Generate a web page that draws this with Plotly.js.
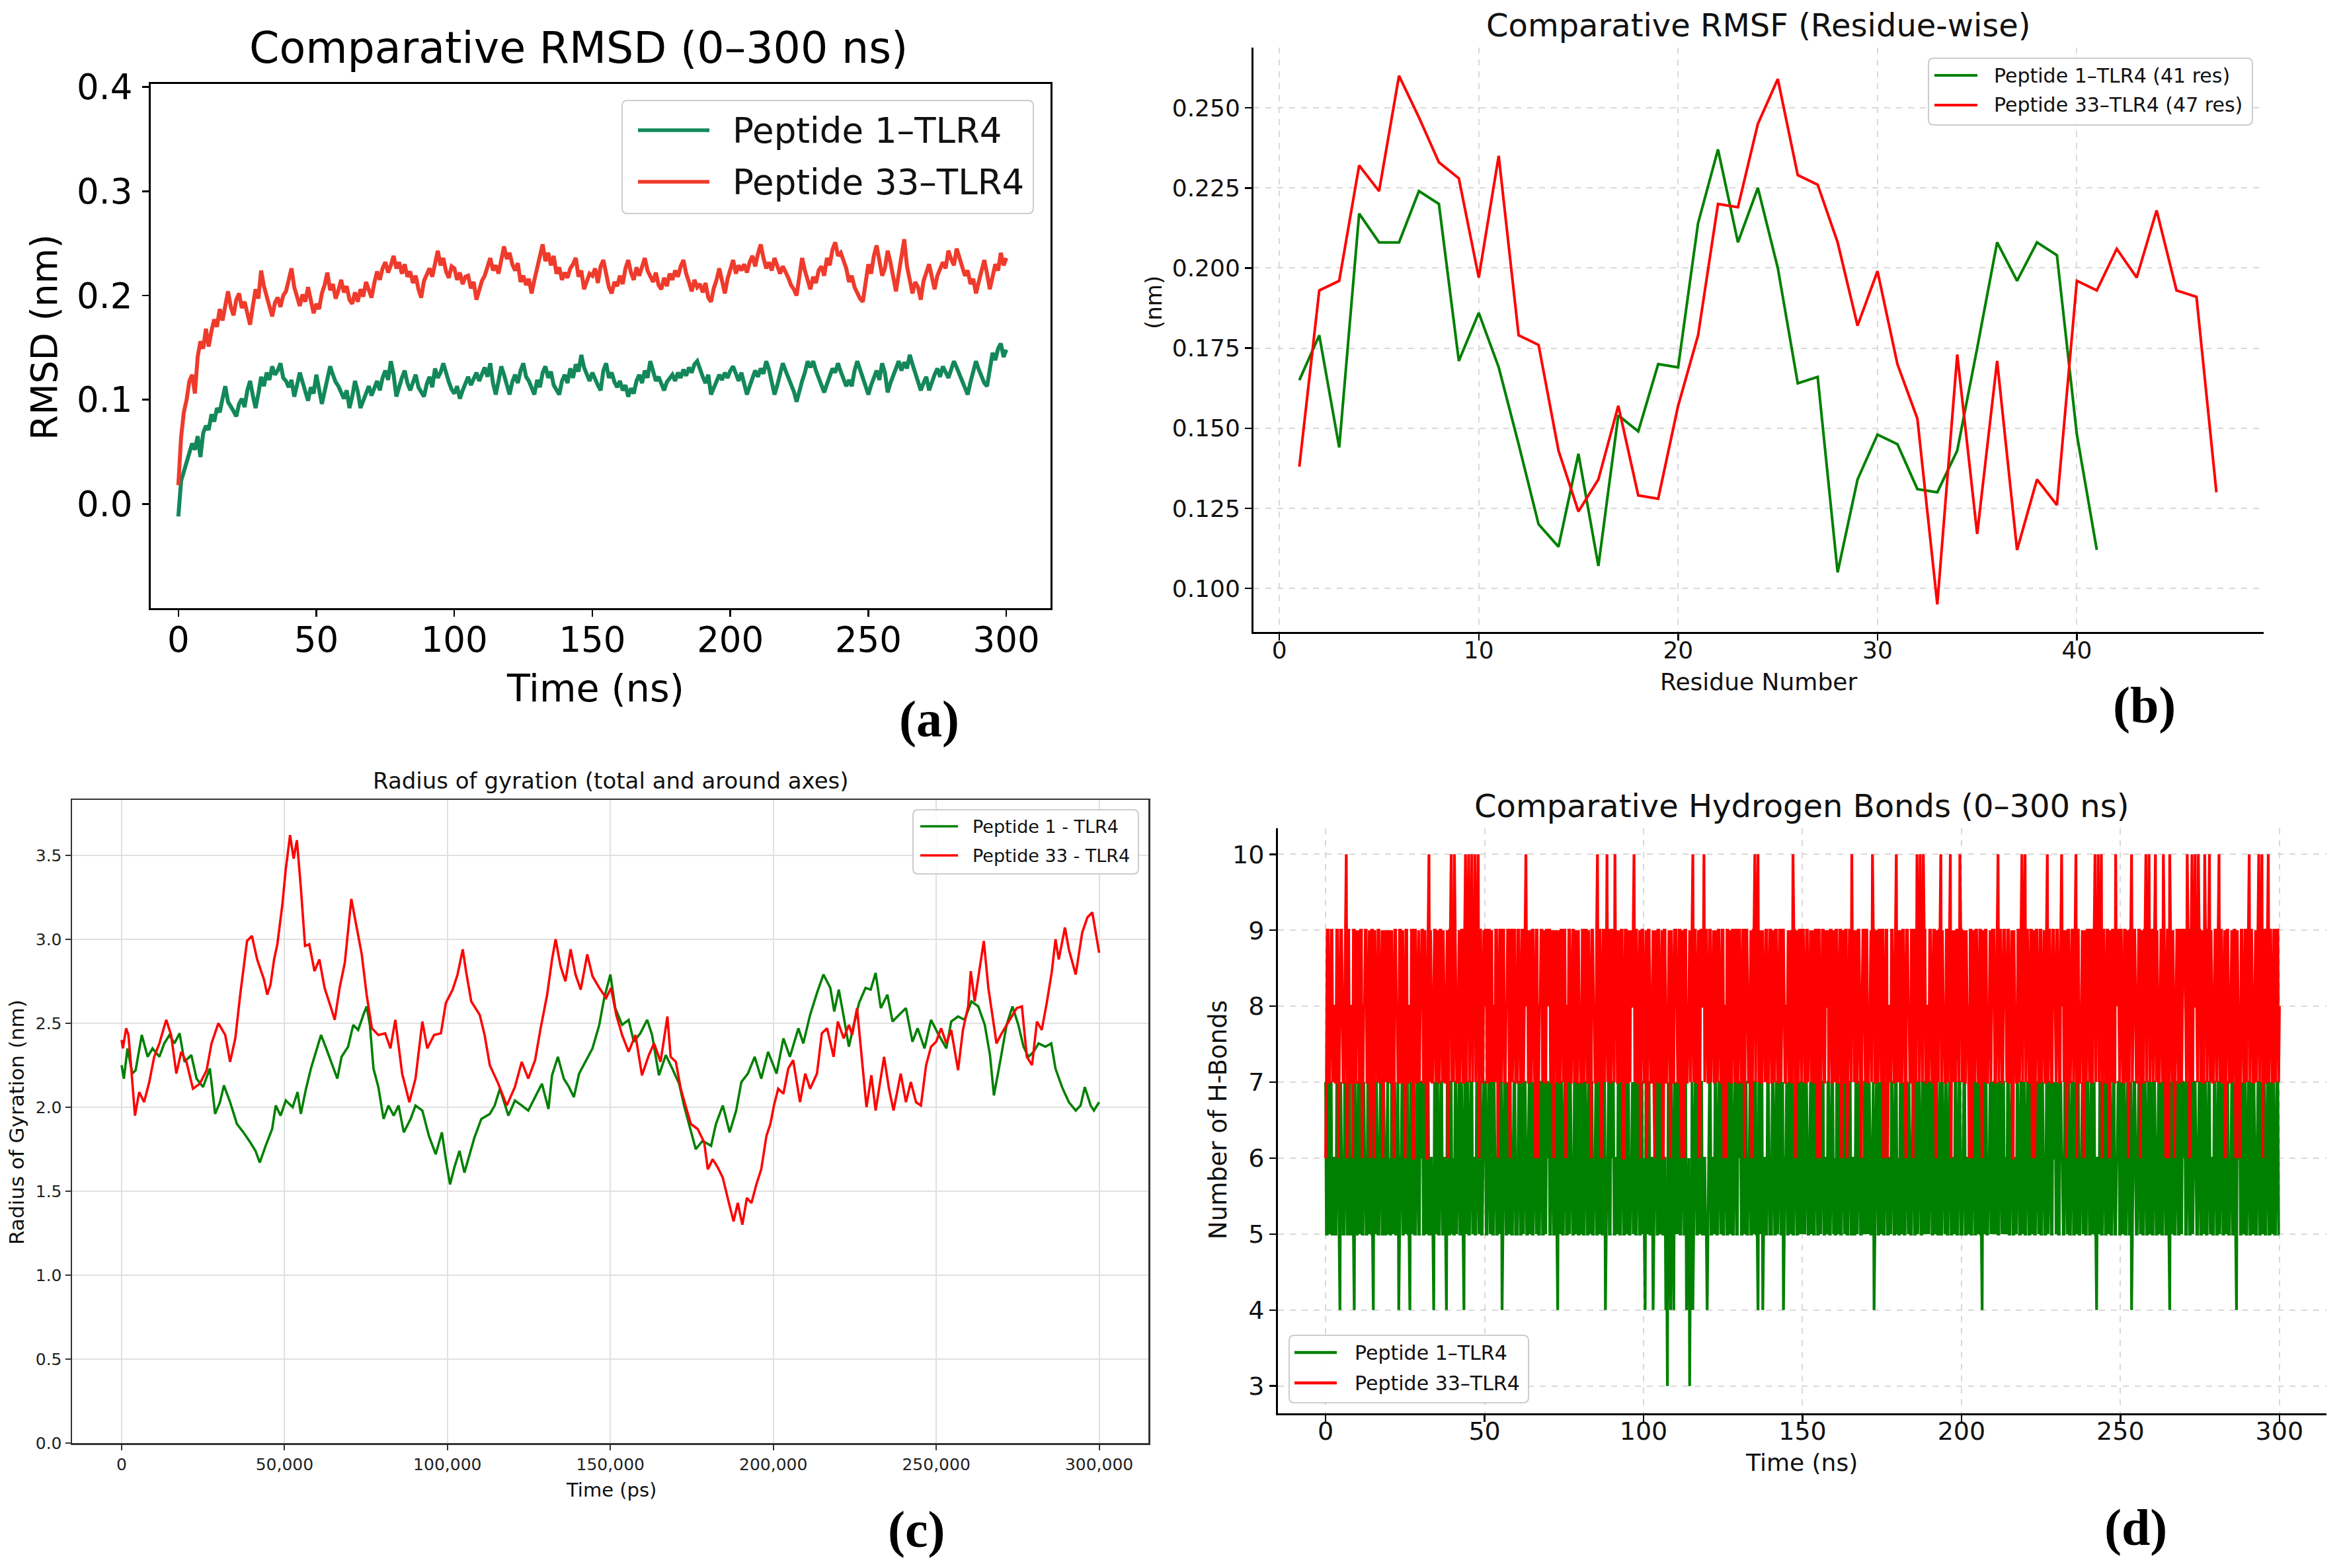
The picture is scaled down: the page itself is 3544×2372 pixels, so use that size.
<!DOCTYPE html>
<html><head><meta charset="utf-8">
<script src="https://cdn.plot.ly/plotly-3.0.1.min.js"></script>
<style>html,body{margin:0;padding:0;background:#fff;}#chart{width:3544px;height:2372px;}</style>
</head><body><div id="chart"></div>
<script>
// ---------- (a) RMSD, 1 ns sampling, 0..300 ns ----------
const rmsdPep1 = [
-0.012,0.022,0.031,0.039,0.048,0.058,0.052,0.065,0.045,0.068,
0.075,0.071,0.086,0.079,0.092,0.088,0.101,0.113,0.098,0.094,
0.089,0.084,0.096,0.101,0.093,0.109,0.118,0.104,0.092,0.106,
0.122,0.113,0.126,0.119,0.132,0.124,0.128,0.135,0.121,0.118,
0.112,0.119,0.103,0.114,0.126,0.117,0.108,0.099,0.112,0.106,
0.124,0.110,0.096,0.108,0.121,0.132,0.124,0.117,0.113,0.106,
0.101,0.109,0.092,0.103,0.118,0.108,0.092,0.099,0.106,0.113,
0.104,0.112,0.118,0.109,0.121,0.128,0.119,0.137,0.124,0.103,
0.114,0.121,0.128,0.116,0.109,0.118,0.124,0.112,0.107,0.103,
0.115,0.122,0.112,0.130,0.121,0.126,0.135,0.124,0.117,0.110,
0.106,0.113,0.101,0.109,0.116,0.122,0.114,0.119,0.126,0.118,
0.124,0.131,0.122,0.135,0.116,0.105,0.118,0.132,0.124,0.114,
0.105,0.117,0.124,0.116,0.128,0.135,0.122,0.118,0.111,0.105,
0.119,0.112,0.126,0.132,0.121,0.127,0.114,0.109,0.105,0.118,
0.124,0.116,0.130,0.121,0.134,0.127,0.143,0.131,0.124,0.118,
0.126,0.119,0.114,0.109,0.128,0.135,0.121,0.126,0.117,0.112,
0.118,0.109,0.114,0.103,0.111,0.106,0.118,0.124,0.116,0.128,
0.121,0.137,0.126,0.118,0.122,0.114,0.109,0.117,0.121,0.124,
0.118,0.126,0.121,0.129,0.123,0.131,0.126,0.134,0.137,0.128,
0.122,0.116,0.124,0.105,0.112,0.118,0.124,0.119,0.126,0.121,
0.128,0.132,0.124,0.118,0.126,0.114,0.105,0.113,0.121,0.128,
0.122,0.130,0.125,0.137,0.129,0.118,0.105,0.114,0.126,0.135,
0.128,0.121,0.114,0.108,0.098,0.109,0.118,0.126,0.137,0.131,
0.137,0.128,0.121,0.116,0.107,0.115,0.124,0.130,0.126,0.135,
0.127,0.120,0.113,0.119,0.113,0.128,0.137,0.129,0.121,0.112,
0.105,0.114,0.122,0.128,0.119,0.135,0.126,0.107,0.116,0.124,
0.131,0.137,0.128,0.136,0.130,0.143,0.134,0.125,0.118,0.109,
0.116,0.122,0.109,0.118,0.124,0.130,0.122,0.132,0.126,0.121,
0.129,0.137,0.131,0.124,0.118,0.112,0.105,0.117,0.126,0.137,
0.129,0.121,0.116,0.113,0.128,0.145,0.138,0.149,0.154,0.141,
0.148];
const rmsdPep33 = [
0.018,0.064,0.088,0.100,0.118,0.124,0.106,0.141,0.156,0.149,
0.168,0.151,0.166,0.177,0.170,0.187,0.176,0.193,0.204,0.189,
0.181,0.196,0.202,0.188,0.194,0.183,0.172,0.190,0.206,0.197,
0.224,0.209,0.198,0.191,0.180,0.193,0.198,0.189,0.200,0.204,
0.214,0.226,0.208,0.199,0.190,0.201,0.194,0.208,0.196,0.183,
0.192,0.187,0.202,0.210,0.222,0.205,0.211,0.197,0.205,0.215,
0.203,0.209,0.196,0.192,0.203,0.194,0.206,0.199,0.213,0.204,
0.198,0.212,0.223,0.215,0.226,0.232,0.222,0.229,0.238,0.226,
0.232,0.221,0.230,0.218,0.223,0.212,0.219,0.206,0.198,0.214,
0.220,0.226,0.218,0.233,0.243,0.229,0.236,0.223,0.217,0.228,
0.226,0.215,0.222,0.211,0.218,0.219,0.207,0.213,0.196,0.205,
0.214,0.219,0.227,0.236,0.224,0.229,0.221,0.233,0.247,0.235,
0.241,0.230,0.224,0.231,0.213,0.219,0.210,0.216,0.202,0.215,
0.226,0.238,0.249,0.233,0.241,0.229,0.238,0.221,0.227,0.215,
0.222,0.217,0.226,0.230,0.236,0.218,0.224,0.206,0.214,0.221,
0.219,0.226,0.212,0.228,0.234,0.219,0.208,0.202,0.213,0.209,
0.219,0.211,0.226,0.234,0.222,0.215,0.227,0.219,0.229,0.236,
0.224,0.218,0.213,0.222,0.210,0.206,0.217,0.209,0.221,0.215,
0.224,0.218,0.228,0.234,0.221,0.213,0.204,0.215,0.208,0.211,
0.203,0.212,0.198,0.194,0.207,0.215,0.226,0.214,0.202,0.216,
0.225,0.234,0.221,0.229,0.224,0.230,0.222,0.232,0.238,0.228,
0.240,0.249,0.236,0.226,0.232,0.224,0.236,0.229,0.221,0.228,
0.223,0.217,0.210,0.206,0.200,0.216,0.236,0.224,0.213,0.206,
0.218,0.212,0.224,0.228,0.219,0.236,0.229,0.244,0.251,0.238,
0.241,0.232,0.226,0.213,0.219,0.208,0.202,0.197,0.194,0.212,
0.230,0.221,0.238,0.248,0.231,0.219,0.226,0.243,0.232,0.218,
0.204,0.221,0.236,0.254,0.228,0.215,0.202,0.213,0.208,0.196,
0.214,0.222,0.230,0.218,0.206,0.219,0.225,0.232,0.226,0.243,
0.235,0.229,0.245,0.237,0.228,0.219,0.224,0.211,0.216,0.202,
0.213,0.225,0.234,0.221,0.206,0.218,0.230,0.224,0.241,0.229,
0.236];

// ---------- (b) RMSF per residue ----------
const rmsfPep1 = [0.165,0.179,0.144,0.217,0.208,0.208,0.224,0.220,0.171,0.186,
0.169,0.145,0.120,0.113,0.142,0.107,0.154,0.149,0.170,0.169,
0.214,0.237,0.208,0.225,0.200,0.164,0.166,0.105,0.134,0.148,
0.145,0.131,0.130,0.143,0.175,0.208,0.196,0.208,0.204,0.148,0.112];
const rmsfPep33 = [0.138,0.193,0.196,0.232,0.224,0.260,0.247,0.233,0.228,0.197,
0.235,0.179,0.176,0.143,0.124,0.134,0.157,0.129,0.128,0.157,
0.179,0.220,0.219,0.245,0.259,0.229,0.226,0.208,0.182,0.199,
0.170,0.153,0.095,0.173,0.117,0.171,0.112,0.134,0.126,0.196,
0.193,0.206,0.197,0.218,0.193,0.191,0.130];

// ---------- (c) Radius of gyration ----------
const rgTimePep1 = [0,700,1800,3300,4300,6200,8000,9500,11600,13100,
14700,16200,17800,19300,21400,23000,25000,27100,28700,30200,
31400,33300,35400,37400,39500,41100,42400,44200,46200,47300,
48800,50400,52500,54000,55000,56600,58100,59700,61200,62800,
64300,66200,67500,69500,71100,72600,74200,75200,76200,77300,
78800,80400,81900,83500,85000,86600,88700,90200,92300,94300,
96400,98300,99500,100800,102100,103700,105200,106800,108300,110400,
113000,114500,116100,118700,120700,122800,124800,126900,129000,131000,
132100,133900,135700,137300,138800,140400,142400,144500,146600,148100,
150000,151500,153600,155600,157200,159200,161300,162800,164900,167000,
169000,171100,172600,174200,176200,178300,180900,182400,184500,186600,
188600,190200,192200,194300,196300,198400,201000,203100,205100,207700,
209200,211300,213400,215400,217500,218700,220100,221600,223200,224700,
226300,228300,229900,231400,233000,235000,236600,238600,240700,242700,
244300,246400,248400,250500,253100,254600,256700,258700,260800,262900,
264900,266500,267700,269600,271600,273400,275200,276800,278300,279900,
281400,283500,285300,286600,288600,290700,292800,294300,295600,297400,
298400,300000];
const rgPep1 = [2.25,2.17,2.35,2.20,2.22,2.43,2.30,2.35,2.30,2.38,
2.43,2.38,2.44,2.27,2.31,2.17,2.12,2.23,1.96,2.03,
2.13,2.03,1.90,1.85,1.79,1.74,1.67,1.77,1.87,2.01,
1.95,2.04,2.00,2.09,1.96,2.11,2.23,2.33,2.43,2.35,
2.27,2.17,2.30,2.36,2.49,2.46,2.55,2.60,2.49,2.23,
2.12,1.93,2.01,1.95,2.01,1.85,1.93,2.01,1.98,1.83,
1.72,1.85,1.69,1.54,1.64,1.74,1.61,1.72,1.82,1.93,
1.96,2.01,2.11,1.95,2.04,2.01,1.98,2.06,2.14,1.99,
2.19,2.30,2.17,2.12,2.06,2.20,2.27,2.35,2.49,2.65,
2.79,2.59,2.49,2.52,2.39,2.44,2.52,2.43,2.19,2.31,
2.23,2.14,2.01,1.90,1.75,1.80,1.77,1.90,2.01,1.85,
1.98,2.15,2.20,2.30,2.17,2.33,2.20,2.41,2.30,2.47,
2.38,2.55,2.68,2.79,2.71,2.57,2.70,2.54,2.36,2.49,
2.62,2.71,2.70,2.80,2.59,2.67,2.51,2.55,2.59,2.39,
2.47,2.35,2.52,2.44,2.35,2.51,2.54,2.52,2.63,2.60,
2.49,2.31,2.07,2.27,2.49,2.60,2.49,2.36,2.30,2.33,
2.38,2.36,2.38,2.23,2.12,2.03,1.98,2.01,2.12,2.01,
1.98,2.03];
const rgTimePep33 = [0,400,1400,2100,2800,4100,5400,6900,8500,10000,
11600,13700,15200,16800,18300,19900,21900,24000,26100,27600,
29700,31800,33300,34900,36400,38500,40000,41600,43700,44700,
45700,46800,47800,49300,50400,51700,52800,53800,55000,56300,
57600,59200,60700,62300,64300,65400,66900,68500,70500,72100,
73700,75200,76800,78800,80900,82500,84000,86100,88300,90200,
92300,93800,95900,98000,99500,101600,103100,104700,105700,107300,
109900,111400,113000,115600,118200,120700,122800,124800,126900,128500,
130600,132100,133200,134700,136200,137800,139300,140900,142900,144500,
146600,148700,150200,151800,153600,155600,157700,159700,161800,163400,
165400,167500,168500,170100,171600,173200,174700,176800,178800,179900,
181400,183000,184500,186000,187800,189100,190500,191900,193300,194800,
196300,197900,199100,200200,201500,203100,204600,206100,208200,209800,
211300,213400,214900,216500,218500,219800,221600,223200,224200,225700,
227300,228600,230100,231400,234000,235500,236900,239100,240700,242200,
243800,245300,246900,248400,250000,251500,253100,254600,256700,258200,
259800,260600,261800,263400,264600,266000,267200,268500,270100,271600,
273200,274700,276300,277800,279400,280900,282400,284000,285500,286600,
287600,289500,290700,292800,294800,296400,297900,298700,300000];
const rgPep33 = [2.40,2.35,2.47,2.43,2.27,1.95,2.09,2.03,2.15,2.30,
2.38,2.52,2.43,2.20,2.33,2.27,2.11,2.14,2.22,2.38,
2.50,2.43,2.27,2.41,2.67,2.99,3.02,2.88,2.76,2.67,
2.73,2.88,2.97,3.20,3.42,3.62,3.48,3.59,3.31,2.96,
2.97,2.81,2.88,2.71,2.59,2.52,2.71,2.86,3.24,3.07,
2.91,2.67,2.47,2.43,2.44,2.35,2.52,2.20,2.03,2.17,
2.51,2.35,2.43,2.44,2.62,2.70,2.79,2.94,2.81,2.63,
2.55,2.43,2.25,2.14,2.01,2.12,2.27,2.17,2.28,2.46,
2.67,2.88,3.00,2.84,2.75,2.94,2.79,2.70,2.91,2.78,
2.71,2.65,2.71,2.55,2.43,2.33,2.43,2.19,2.31,2.38,
2.27,2.54,2.30,2.27,2.11,2.00,1.90,1.87,1.79,1.63,
1.69,1.64,1.58,1.46,1.32,1.43,1.30,1.46,1.43,1.54,
1.63,1.83,1.90,2.01,2.11,2.08,2.23,2.28,2.03,2.20,
2.11,2.20,2.44,2.47,2.30,2.51,2.41,2.49,2.43,2.59,
2.27,2.00,2.19,1.98,2.30,2.11,1.98,2.20,2.03,2.15,
2.03,2.01,2.25,2.36,2.39,2.47,2.38,2.46,2.22,2.46,
2.60,2.81,2.63,2.83,2.99,2.71,2.55,2.38,2.44,2.49,
2.54,2.59,2.60,2.30,2.25,2.51,2.46,2.63,2.81,3.00,
2.88,3.07,2.94,2.79,3.04,3.13,3.16,3.07,2.92];

// ---------- (d) H-bond counts: frames every 0.25 ns (T = 10) ----------
// frames at 0, 0.5, 1.0 ... ns
const hbPep1Frames =
"75675657646576575646"+"57657656754675675657"+"65765646756754675675"+"67567565467567564657"+
"65767564675676576756"+"75676576576467567567"+"56756765765767567567"+"65765746756756765765"+
"76576567567567564675"+"67567576567567657657"+"64675646756756435464"+"56756754534467567565"+
"46756756765765765675"+"67567567567546746576"+"57657675467567567567"+"56765765765767567567"+
"65765767567565767567"+"56756467567567567657"+"65765767567567657657"+"67567565767567567567"+
"56756756756754675676"+"57657675675675676576"+"56756756765765767567"+"65765767567567567657"+
"65765467567567567567"+"56756754675676576576"+"57657657656467567567"+"65765767567567567657"+
"65767567567564675675"+"67567567567567567567"+"5";
// frames at 0.25, 0.75, 1.25 ... ns
const hbPep1MidFrames =
"57575657576575756575"+"75756575757565757565"+"57575756575757565757"+"75757565757575657575"+
"57565757575756575757"+"75757565757575756575"+"57575756575657575757"+"75756575757575657575"+
"57575757565757575657"+"75657575757565757575"+"57575657575756575757"+"75757575657575757565"+
"57565757575657575757"+"75757565757575756575"+"57575757565757575757"+"75756575757575657575"+
"57575757575657575657"+"75657575757575657575"+"57575756575757575765"+"75757575657575657575"+
"57565757575757575657"+"75757576575756575757"+"57575757575657575765"+"75765757575757565757"+
"57575657575757575675"+"75757575765757575757"+"57565757575756575757"+"75757576575757575657"+
"57575757565757657575"+"75756575757575757575";
const hbPep33Frames =
"6978987968978T978697"+"87968978697989786978"+"97869879786978969787"+"89786T9789879897869T"+
"9T879897T9T8T9T8T987"+"89798789879897896989"+"798798T9789869789879"+"89789987989689789879"+
"87989786987T98798T97"+"98T97896897898T97869"+"87698796897869789687"+"98796897898T978698T9"+
"87989789879869879897"+"9879897869T9T8798978"+"97898798978987T98798"+"98798987989689789897"+
"89789879689T98798698"+"9789T97898968978987T"+"987986987989T9T8T978"+"9879689T98798T97898T"+
"98798697898796897898"+"978T98798978698798T9"+"T9879869879897T98798"+"987T98697898T9789689"+
"8979T9T8T98796897T98"+"9879869T89789879T9T8"+"98T9789T879T89689798"+"98T97T9T8T987T98T978"+
"98T97869879897869879"+"9T98798T9T897T987989"+"8";
const hbPep33MidFrames =
"79797879798796978979"+"97978979796879797897"+"79798797979787969798"+"97969787979797879797"+
"79787979797978796979"+"97979879697978979797"+"79797987979796897979"+"97968797979879797978"+
"79797979879796978797"+"97879796979789797979"+"79797879797969787979"+"97979697879797979879"+
"79787979796897979797"+"97969879797979787979"+"79797979878797969797"+"97978797969797987979"+
"79796979797879797897"+"97879797979796879797"+"79797987969797979787"+"97979797879796897979"+
"79787969797979797879"+"97979798797968797979"+"79796979797879797987"+"97987979797969787979"+
"79797879697979797897"+"97979797987969797979"+"79787979696978797979"+"97969798797979797879"+
"79797979787969879797"+"97978797969797979797";
const decodeFrames = s => s.split('').map(c => c === 'T' ? 10 : Number(c));
function interleave(a, b) {
  const out = [];
  a.forEach((v, i) => { out.push(v); if (i < b.length && i < a.length - 1) out.push(b[i]); });
  return out;
}
const hbPep1 = interleave(decodeFrames(hbPep1Frames), decodeFrames(hbPep1MidFrames));
const hbPep33 = interleave(decodeFrames(hbPep33Frames), decodeFrames(hbPep33MidFrames));

// ---------- labels ----------
const seriesNamesA = ['Peptide 1\u2013TLR4', 'Peptide 33\u2013TLR4'];
const seriesNamesB = ['Peptide 1\u2013TLR4 (41 res)', 'Peptide 33\u2013TLR4 (47 res)'];
const seriesNamesC = ['Peptide 1 - TLR4', 'Peptide 33 - TLR4'];
const seriesNamesD = ['Peptide 1\u2013TLR4', 'Peptide 33\u2013TLR4'];
const titles = ['Comparative RMSD (0\u2013300 ns)', 'Comparative RMSF (Residue-wise)',
  'Radius of gyration (total and around axes)', 'Comparative Hydrogen Bonds (0\u2013300 ns)'];

// ---------- layout helpers (pixel -> paper) ----------
const W = 3544, H = 2372;
const X = p => p / W;
const Y = p => 1 - p / H;
const FONT = 'DejaVu Sans, sans-serif';
const GA = '#13885a', RA = '#ef3b2c';
const G = '#008000', R = '#ff0000';

const traces = [
  {x0:0, dx:1, y:rmsdPep1, xaxis:'x', yaxis:'y', type:'scatter', mode:'lines', name:seriesNamesA[0], line:{color:GA, width:6}},
  {x0:0, dx:1, y:rmsdPep33, xaxis:'x', yaxis:'y', type:'scatter', mode:'lines', name:seriesNamesA[1], line:{color:RA, width:6}},
  {x0:1, dx:1, y:rmsfPep1, xaxis:'x2', yaxis:'y2', type:'scatter', mode:'lines', name:seriesNamesB[0], line:{color:G, width:4}},
  {x0:1, dx:1, y:rmsfPep33, xaxis:'x2', yaxis:'y2', type:'scatter', mode:'lines', name:seriesNamesB[1], line:{color:R, width:4}},
  {x:rgTimePep1, y:rgPep1, xaxis:'x3', yaxis:'y3', type:'scatter', mode:'lines', name:seriesNamesC[0], line:{color:G, width:3.6}},
  {x:rgTimePep33, y:rgPep33, xaxis:'x3', yaxis:'y3', type:'scatter', mode:'lines', name:seriesNamesC[1], line:{color:R, width:3.6}},
  {x0:0, dx:0.25, y:hbPep1, xaxis:'x4', yaxis:'y4', type:'scatter', mode:'lines', name:seriesNamesD[0], line:{color:G, width:4.2, simplify:false}},
  {x0:0, dx:0.25, y:hbPep33, xaxis:'x4', yaxis:'y4', type:'scatter', mode:'lines', name:seriesNamesD[1], line:{color:R, width:4.2, simplify:false}}
].map(t => Object.assign(t, {showlegend:false, hoverinfo:'skip'}));

function axis(o) {
  return Object.assign({
    showline:true, linecolor:'#000', linewidth:3, mirror:false,
    ticks:'outside', ticklen:10, tickwidth:2.5, tickcolor:'#000',
    zeroline:false, showgrid:false, fixedrange:true,
    tickfont:{family:FONT, size:36, color:'#000'}
  }, o);
}
const dashGrid = {showgrid:true, gridcolor:'#d9d9d9', gridwidth:2, griddash:'dash'};
const solidGrid = {showgrid:true, gridcolor:'#e1e1e1', gridwidth:2};

const layout = {
  width:W, height:H, margin:{l:0,r:0,t:0,b:0}, paper_bgcolor:'#fff', plot_bgcolor:'rgba(0,0,0,0)',
  showlegend:false,
  xaxis: axis({domain:[X(228),X(1589)], anchor:'y', range:[-10,316], tickvals:[0,50,100,150,200,250,300], mirror:true, tickfont:{family:FONT,size:53,color:'#000'}, ticklabelstandoff:-11}),
  yaxis: axis({domain:[Y(920),Y(127)], anchor:'x', range:[-0.1,0.403], tickvals:[0,0.1,0.2,0.3,0.4], tickformat:'.1f', mirror:true, tickfont:{family:FONT,size:53,color:'#000'}, ticklabelstandoff:4}),
  xaxis2: axis(Object.assign({domain:[X(1896),X(3424)], anchor:'y2', range:[-1.3,49.37], tickvals:[0,10,20,30,40], tickfont:{family:FONT,size:36,color:'#111'}, ticklabelstandoff:-16}, dashGrid)),
  yaxis2: axis(Object.assign({domain:[Y(956),Y(72)], anchor:'x2', range:[0.0864,0.2688], tickvals:[0.1,0.125,0.15,0.175,0.2,0.225,0.25], tickformat:'.3f', tickfont:{family:FONT,size:36,color:'#111'}}, dashGrid)),
  xaxis3: axis(Object.assign({domain:[X(109),X(1737)], anchor:'y3', range:[-15200,315100], tickvals:[0,50000,100000,150000,200000,250000,300000], tickformat:',d', mirror:true, linecolor:'#333', linewidth:2.5, ticklen:8, tickwidth:2, tickcolor:'#333', tickfont:{family:FONT,size:25,color:'#222'}}, solidGrid)),
  yaxis3: axis(Object.assign({domain:[Y(2183),Y(1210)], anchor:'x3', range:[0,3.83], tickvals:[0,0.5,1,1.5,2,2.5,3,3.5], tickformat:'.1f', mirror:true, linecolor:'#333', linewidth:2.5, ticklen:8, tickwidth:2, tickcolor:'#333', tickfont:{family:FONT,size:25,color:'#222'}}, solidGrid)),
  xaxis4: axis(Object.assign({domain:[X(1933),X(3519)], anchor:'y4', range:[-15,314.8], tickvals:[0,50,100,150,200,250,300], tickfont:{family:FONT,size:38,color:'#111'}, ticklabelstandoff:-19}, dashGrid)),
  yaxis4: axis(Object.assign({domain:[Y(2138),Y(1253)], anchor:'x4', range:[2.641,10.342], tickvals:[3,4,5,6,7,8,9,10], tickfont:{family:FONT,size:38,color:'#111'}}, dashGrid)),
  annotations:[], shapes:[]
};

function txt(t, cx, cy, size, opts) {
  layout.annotations.push(Object.assign({xref:'paper', yref:'paper', x:X(cx), y:Y(cy), text:t, showarrow:false,
    xanchor:'center', yanchor:'middle', font:{family:FONT, size:size, color:'#111'}}, opts || {}));
}
function rrect(x0, y0, x1, y1, r) {
  const P = (x, y) => X(x) + ',' + Y(y);
  return 'M' + P(x0 + r, y0) + ' L' + P(x1 - r, y0) + ' Q' + P(x1, y0) + ' ' + P(x1, y0 + r) +
    ' L' + P(x1, y1 - r) + ' Q' + P(x1, y1) + ' ' + P(x1 - r, y1) + ' L' + P(x0 + r, y1) +
    ' Q' + P(x0, y1) + ' ' + P(x0, y1 - r) + ' L' + P(x0, y0 + r) + ' Q' + P(x0, y0) + ' ' + P(x0 + r, y0) + ' Z';
}
function legendBox(box, lineX, textX, rows, size, lw) {
  layout.shapes.push({type:'path', xref:'paper', yref:'paper', path:rrect(box[0], box[1], box[2], box[3], 8),
    line:{color:'#cccccc', width:2}, fillcolor:'rgba(255,255,255,0.85)', layer:'above'});
  rows.forEach(r => {
    layout.shapes.push({type:'line', xref:'paper', yref:'paper', x0:X(lineX[0]), x1:X(lineX[1]), y0:Y(r.y), y1:Y(r.y),
      line:{color:r.color, width:lw}, layer:'above'});
    txt(r.text, textX, r.y, size, {xanchor:'left', font:{family:FONT, size:size, color:'#111'}});
  });
}

// (a)
txt(titles[0], 875, 73, 65, {font:{family:FONT, size:65, color:'#000'}});
txt('Time (ns)', 900, 1041, 57, {font:{family:FONT, size:57, color:'#000'}});
txt('RMSD (nm)', 67, 510, 55, {textangle:-90, font:{family:FONT, size:55, color:'#000'}});
legendBox([941,152,1563,323], [965,1073], 1106, [{y:197, color:GA, text:seriesNamesA[0]}, {y:275, color:RA, text:seriesNamesA[1]}], 53, 5.5);
// (b)
txt(titles[1], 2660, 38, 48);
txt('Residue Number', 2660, 1031, 36);
txt('(nm)', 1745, 458, 34, {textangle:-90});
legendBox([2917,88,3407,189], [2926,2991], 3014, [{y:114, color:G, text:seriesNamesB[0]}, {y:159, color:R, text:seriesNamesB[1]}], 30, 4);
// (c)
txt(titles[2], 924, 1181, 34);
txt('Time (ps)', 924, 2254, 29);
txt('Radius of Gyration (nm)', 25, 1698, 31, {textangle:-90});
legendBox([1381,1225,1722,1322], [1392,1449], 1469, [{y:1250, color:G, text:seriesNamesC[0]}, {y:1294, color:R, text:seriesNamesC[1]}], 27, 3.5);
// (d)
txt(titles[3], 2725, 1219, 48);
txt('Time (ns)', 2725, 2212, 36);
txt('Number of H-Bonds', 1842, 1694, 37, {textangle:-90});
legendBox([1950,2020,2312,2122], [1958,2022], 2047, [{y:2046, color:G, text:seriesNamesD[0]}, {y:2092, color:R, text:seriesNamesD[1]}], 30, 4.5);
// panel letters
const SERIF = 'Liberation Serif, DejaVu Serif, serif';
[['(a)',1405,1087],['(b)',3243,1066],['(c)',1386,2313],['(d)',3230,2310]].forEach(p =>
  txt('<b>' + p[0] + '</b>', p[1], p[2], 78, {font:{family:SERIF, size:78, color:'#000'}}));

Plotly.newPlot('chart', traces, layout, {staticPlot:true, displayModeBar:false});
</script></body></html>
